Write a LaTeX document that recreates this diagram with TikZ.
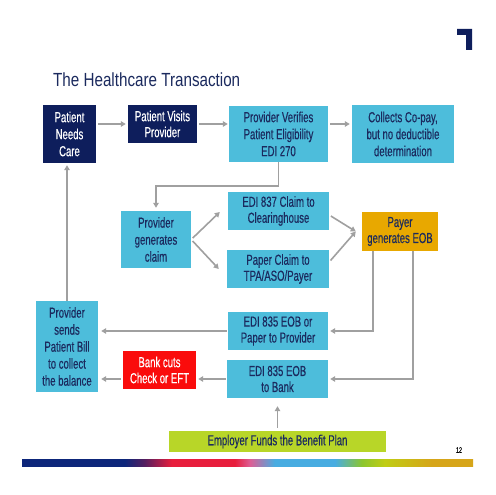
\documentclass[tikz,border=0pt]{standalone}
\usepackage{fontspec}
\setmainfont{Liberation Sans}[FakeStretch=0.66,FakeBold=0.4]
\newfontfamily\titlefont{Liberation Sans}[FakeStretch=0.8]
\usetikzlibrary{arrows.meta,calc}
\definecolor{navybox}{RGB}{14,30,92}
\definecolor{ltblue}{RGB}{77,189,219}
\definecolor{txtnavy}{RGB}{27,42,94}
\definecolor{goldbox}{RGB}{232,168,0}
\definecolor{redbox}{RGB}{250,12,12}
\definecolor{limebox}{RGB}{184,214,40}
\definecolor{arrgray}{RGB}{160,160,160}
\definecolor{gNavy}{RGB}{13,38,122}
\definecolor{gPurple}{RGB}{85,30,95}
\definecolor{gRed}{RGB}{232,30,60}
\definecolor{gPink}{RGB}{220,95,150}
\definecolor{gBlue}{RGB}{72,172,225}
\definecolor{gGreen}{RGB}{140,198,45}
\definecolor{gYG}{RGB}{192,205,20}
\definecolor{gGold}{RGB}{214,165,25}
\pgfdeclarehorizontalshading{rainbowbar}{100bp}{%
color(0bp)=(gNavy); color(25bp)=(gNavy); color(36.4bp)=(gNavy);
color(38.6bp)=(gPurple); color(41.6bp)=(gRed); color(48.6bp)=(gRed);
color(50.3bp)=(gPink); color(53bp)=(gBlue); color(59.7bp)=(gBlue);
color(62.7bp)=(gGreen); color(65.2bp)=(gYG); color(70.5bp)=(gGold);
color(75bp)=(gGold); color(100bp)=(gGold)}
\tikzset{
  box/.style={rectangle, inner sep=0pt, align=center, font=\fontsize{14.5}{17}\selectfont},
  twoline/.style={font=\fontsize{14.5}{16}\selectfont},
  darkbox/.style={box, fill=navybox, text=white},
  lightbox/.style={box, fill=ltblue, text=txtnavy},
  arr/.style={draw=arrgray, line width=1.6pt, -{Triangle[length=5pt,width=5.5pt]}},
}
\begin{document}
\begin{tikzpicture}[x=1pt,y=-1pt]
\useasboundingbox (0,0) rectangle (495,495);
\fill[white] (0,0) rectangle (495,495);
% corner mark
\fill[navybox] (457,29) -- (472,29) -- (472,50) -- (466,50) -- (466,35) -- (457,35) -- cycle;
% title
\node[anchor=base west, inner sep=0pt, text=txtnavy, font=\titlefont\fontsize{19}{22}\selectfont] (title) at (53,86) {The Healthcare Transaction};
% boxes
\node[darkbox, minimum width=53pt, minimum height=58pt] (need) at (69.5,134) {Patient\\Needs\\Care};
\node[darkbox, twoline, minimum width=69pt, minimum height=38pt] (visits) at (162.5,124) {Patient Visits\\Provider};
\node[lightbox, minimum width=99pt, minimum height=56pt] (verify) at (278.5,134) {Provider Verifies\\Patient Eligibility\\EDI 270};
\node[lightbox, minimum width=102pt, minimum height=58pt] (copay) at (403,134) {Collects Co-pay,\\but no deductible\\determination};
\node[lightbox, minimum width=70pt, minimum height=57pt] (gen) at (156,239.5) {Provider\\generates\\claim};
\node[lightbox, twoline, minimum width=101pt, minimum height=38pt] (edi) at (278.5,211) {EDI 837 Claim to\\Clearinghouse};
\node[lightbox, twoline, minimum width=102pt, minimum height=38pt] (paper) at (278,269) {Paper Claim to\\TPA/ASO/Payer};
\node[box, twoline, fill=goldbox, text=txtnavy, minimum width=76pt, minimum height=39pt] (payer) at (400,231.5) {Payer\\generates EOB};
\node[lightbox, minimum width=62pt, minimum height=91pt] (sends) at (67,346.5) {Provider\\sends\\Patient Bill\\to collect\\the balance};
\node[lightbox, twoline, minimum width=100pt, minimum height=38pt] (eob) at (278,331) {EDI 835 EOB or\\Paper to Provider};
\node[box, twoline, fill=redbox, text=white, minimum width=73pt, minimum height=38pt] (bank) at (159.5,370) {Bank cuts\\Check or EFT};
\node[lightbox, twoline, minimum width=101pt, minimum height=38pt] (tobank) at (277.5,379) {EDI 835 EOB\\to Bank};
\node[box, fill=limebox, text=txtnavy, minimum width=217pt, minimum height=21pt] (employer) at (277.5,441.5) {Employer Funds the Benefit Plan};
% connectors
\draw[arr, shorten <=2pt, shorten >=2pt] (need.east |- visits.east) -- (visits.west);
\draw[arr, shorten <=2pt, shorten >=1pt] (visits.east) -- (verify.west |- visits.east);
\draw[arr, shorten <=2pt, shorten >=2pt] (verify.east |- visits.east) -- (copay.west |- visits.east);
\draw[arr, shorten >=3pt] (verify.south) -- ++(0,24) -| (gen.north);
\coordinate (e1) at ($(edi.west)+(-8,1)$);
\coordinate (p1) at ($(paper.west)+(-8,0)$);
\draw[arr, shorten <=2pt] (gen.east) -- (e1);
\draw[arr, shorten <=2pt] (gen.east) -- (p1);
\coordinate (py) at ($(payer.west)+(-6,0)$);
\draw[arr, shorten <=2pt] ($(edi.east)+(0,4)$) -- (py);
\draw[arr, shorten <=2pt] ($(paper.east)+(0,-7)$) -- (py);
\draw[arr, shorten >=2pt] ([xshift=-27pt]payer.south) |- (eob.east);
\draw[arr, shorten >=2pt] ([xshift=13pt]payer.south) |- (tobank.east);
\draw[arr, shorten <=1pt, shorten >=3pt] (eob.west) -- (sends.east |- eob.west);
\draw[arr, shorten <=1pt, shorten >=2pt] (tobank.west) -- (bank.east |- tobank.west);
\draw[arr, shorten <=2pt, shorten >=3pt] (bank.west |- tobank.west) -- (sends.east |- tobank.west);
\draw[arr, shorten >=2pt] (sends.north) -- (sends.north |- need.south);
\coordinate (tb) at ([yshift=-8pt]tobank.south);
\draw[arr, shorten <=3pt] (employer.north) -- (tb);
% page number and bar
\node[inner sep=0pt, font=\fontsize{8}{9}\selectfont] (pnum) at (459,450) {12};
\shade[shading=rainbowbar] (22,459) rectangle (473,466);
\end{tikzpicture}
\end{document}
